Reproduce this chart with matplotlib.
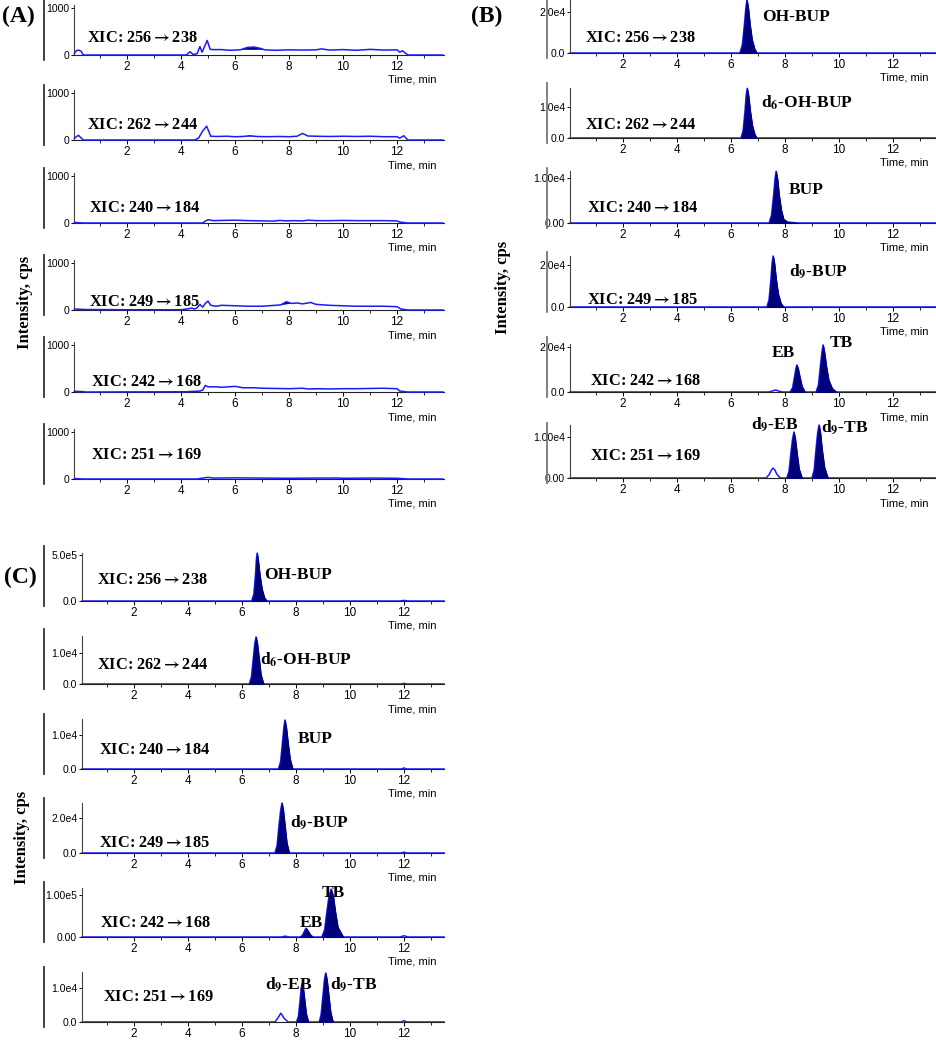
"""
LC-MS/MS extracted ion chromatograms: blank (A), spiked (B) and sample (C).
"""
import numpy as np
import matplotlib
matplotlib.use("Agg")
import matplotlib.pyplot as plt
from matplotlib.lines import Line2D

W, H = 936, 1050
BLUE = "#1a1aff"
NAVY = "#00007a"
SERIF = ["Liberation Serif", "DejaVu Serif"]
SANS = ["Liberation Sans", "DejaVu Sans"]
plt.rcParams["mathtext.fontset"] = "stix"

ARROW = r"$\mathbf{\rightarrow}$"
TRANSITIONS = ["256" + ARROW + "238", "262" + ARROW + "244", "240" + ARROW + "184",
               "249" + ARROW + "185", "242" + ARROW + "168", "251" + ARROW + "169"]

# ---- panel A: blank traces (cps) ----
A1_T = [0.05, 0.12, 0.2, 0.3, 0.38, 4.2, 4.33, 4.45, 4.6, 4.7, 4.78, 4.85, 4.97, 5.08, 5.2, 5.5,
        5.8, 6.0, 6.2, 6.45, 6.7, 6.95, 7.1, 7.5, 8.0, 8.5, 9.0, 9.2, 9.5, 10.0, 10.5, 11.0,
        11.5, 12.0, 12.1, 12.2, 12.4, 13.7]
A1_V = [30, 90, 105, 80, 0, 0, 70, 10, 30, 180, 60, 150, 310, 120, 115, 115,
        100, 105, 110, 160, 170, 140, 110, 100, 110, 105, 110, 130, 105, 115, 100, 120,
        105, 110, 60, 90, 0, 0]
A2_T = [0.05, 0.2, 0.38, 4.5, 4.65, 4.8, 4.95, 5.1, 5.3, 5.7, 6.0, 6.3, 6.55, 6.8, 7.2, 7.6,
        8.0, 8.3, 8.5, 8.7, 9.0, 9.5, 10.0, 10.5, 11.0, 11.5, 12.0, 12.1, 12.25, 12.4, 13.7]
A2_V = [40, 100, 0, 0, 40, 190, 295, 80, 75, 80, 70, 75, 90, 75, 70, 75,
        70, 80, 140, 85, 80, 75, 80, 75, 80, 70, 70, 40, 90, 0, 0]
A3_T = [0.05, 0.4, 4.8, 4.9, 5.0, 5.2, 5.5, 6.0, 6.5, 7.0, 7.4, 7.65, 7.9, 8.2, 8.5, 8.7,
        9.0, 9.5, 10.0, 10.5, 11.0, 11.5, 12.0, 12.1, 12.4, 13.7]
A3_V = [10, 0, 0, 40, 70, 50, 55, 60, 50, 45, 40, 55, 45, 50, 45, 60,
        50, 50, 55, 50, 50, 50, 45, 20, 0, 0]
A4_T = [0.05, 0.5, 2.0, 4.0, 4.2, 4.4, 4.5, 4.6, 4.7, 4.8, 4.9, 5.0, 5.1, 5.3, 5.5, 6.0,
        6.5, 7.0, 7.5, 7.7, 7.9, 8.1, 8.3, 8.5, 8.8, 9.0, 9.5, 10.0, 10.5, 11.0, 11.5, 12.0,
        12.15, 12.4, 13.7]
A4_V = [20, 10, 5, 5, 20, 40, 20, 50, 120, 60, 140, 190, 100, 80, 100, 90,
        80, 80, 100, 110, 175, 140, 150, 130, 160, 120, 100, 90, 80, 80, 80, 70,
        20, 0, 0]
A5_T = [0.05, 0.35, 0.45, 4.2, 4.7, 4.8, 4.9, 5.0, 5.3, 5.5, 6.0, 6.3, 6.7, 7.0, 7.5, 8.0,
        8.5, 8.7, 9.1, 9.5, 10.0, 10.5, 11.0, 11.5, 12.0, 12.1, 12.4, 13.7]
A5_V = [15, 10, 0, 5, 20, 40, 140, 110, 110, 100, 120, 90, 90, 80, 75, 70,
        80, 65, 70, 65, 70, 70, 75, 80, 70, 20, 0, 0]
A6_T = [0.05, 0.35, 4.6, 4.8, 5.0, 5.2, 6.0, 7.0, 8.0, 9.0, 9.5, 9.75, 10.0, 11.0, 12.0,
        12.3, 12.4, 13.7]
A6_V = [10, 0, 0, 20, 35, 20, 25, 20, 15, 20, 20, 22, 15, 20, 15, 5, 0, 0]

# integrated (dark) areas in the blanks
A1_FILL_T = [6.2, 6.45, 6.7, 6.95, 7.1]
A1_FILL_V = [110, 160, 170, 140, 110]
A2_FILL_T = [6.3, 6.55, 6.8]
A2_FILL_V = [75, 90, 75]
A3_FILL_T = [7.4, 7.65, 7.9]
A3_FILL_V = [40, 55, 45]
A4_FILL_T = [7.7, 7.9, 8.1]
A4_FILL_V = [100, 175, 140]
A5_FILL_T = [8.7, 9.1, 9.5]
A5_FILL_V = [60, 70, 62]
A6_FILL_T = [9.5, 9.75, 10.0]
A6_FILL_V = [15, 22, 15]

# ---- panel B: spiked standard ----
B1_OHBUP_T = [6.33, 6.42, 6.5, 6.55, 6.59, 6.64, 6.7, 6.78, 6.88, 6.96]
B1_OHBUP_V = [0, 3900, 14300, 22100, 26000, 22100, 14300, 6500, 1800, 0]
B2_D6OHBUP_T = [6.37, 6.45, 6.52, 6.56, 6.6, 6.65, 6.71, 6.79, 6.88, 6.96]
B2_D6OHBUP_V = [0, 2400, 8800, 13600, 16000, 13600, 8800, 4000, 1100, 0]
B3_BUP_T = [7.41, 7.5, 7.58, 7.63, 7.67, 7.72, 7.78, 7.86, 7.95, 8.1, 8.5]
B3_BUP_V = [0, 1700, 6300, 9800, 11500, 9800, 6300, 2900, 800, 200, 0]
B4_D9BUP_T = [7.33, 7.41, 7.48, 7.52, 7.56, 7.61, 7.67, 7.75, 7.85, 7.95]
B4_D9BUP_V = [0, 3600, 13400, 20700, 24300, 20700, 13400, 6100, 1700, 0]
B5_BUMP_T = [7.4, 7.55, 7.65, 7.75, 7.9]
B5_BUMP_V = [0, 500, 900, 500, 0]
B5_EB_T = [8.19, 8.28, 8.35, 8.4, 8.44, 8.49, 8.55, 8.63, 8.74]
B5_EB_V = [0, 1800, 6600, 10200, 12000, 10200, 6600, 2400, 0]
B5_TB_T = [9.15, 9.24, 9.31, 9.37, 9.41, 9.46, 9.53, 9.62, 9.75, 9.9]
B5_TB_V = [0, 3100, 11500, 17800, 20900, 17800, 11500, 5200, 1500, 0]
B6_BUMP_T = [7.3, 7.42, 7.5, 7.56, 7.62, 7.7, 7.82]
B6_BUMP_V = [0, 900, 2000, 2400, 2000, 900, 0]
B6_D9EB_T = [8.07, 8.15, 8.22, 8.28, 8.33, 8.38, 8.44, 8.52, 8.63]
B6_D9EB_V = [0, 1700, 6200, 9500, 11200, 9500, 6200, 2200, 0]
B6_D9TB_T = [9.0, 9.08, 9.15, 9.21, 9.26, 9.31, 9.37, 9.46, 9.59]
B6_D9TB_V = [0, 1900, 7100, 11000, 12900, 11000, 7100, 2600, 0]

# ---- panel C: sample ----
C1_OHBUP_T = [6.36, 6.44, 6.5, 6.53, 6.56, 6.6, 6.66, 6.74, 6.83, 6.92]
C1_OHBUP_V = [0, 7.8e4, 2.86e5, 4.42e5, 5.2e5, 4.42e5, 2.86e5, 1.3e5, 3.6e4, 0]
C1_BUMP_T = [11.85, 12.0, 12.15]
C1_BUMP_V = [0, 6000, 0]
C2_D6OHBUP_T = [6.27, 6.35, 6.42, 6.47, 6.52, 6.57, 6.63, 6.7, 6.8]
C2_D6OHBUP_V = [0, 2300, 8400, 12900, 15200, 12900, 8400, 3000, 0]
C2_BUMP_T = [11.9, 12.0, 12.1]
C2_BUMP_V = [0, 200, 0]
C3_BUP_T = [7.35, 7.43, 7.5, 7.55, 7.59, 7.64, 7.7, 7.78, 7.88]
C3_BUP_V = [0, 2200, 7900, 12200, 14400, 12200, 7900, 2900, 0]
C3_BUMP_T = [11.9, 12.0, 12.1]
C3_BUMP_V = [0, 300, 0]
C4_D9BUP_T = [7.22, 7.3, 7.37, 7.43, 7.48, 7.53, 7.59, 7.66, 7.75]
C4_D9BUP_V = [0, 4300, 15700, 24300, 28600, 24300, 15700, 5700, 0]
C4_BUMP_T = [11.9, 12.0, 12.1]
C4_BUMP_V = [0, 500, 0]
C5_BUMP1_T = [7.45, 7.6, 7.75]
C5_BUMP1_V = [0, 2000, 0]
C5_BUMP2_T = [11.85, 12.0, 12.15]
C5_BUMP2_V = [0, 3000, 0]
C5_EB_T = [8.15, 8.23, 8.3, 8.34, 8.37, 8.41, 8.47, 8.54, 8.63]
C5_EB_V = [0, 3200, 11600, 17900, 21000, 17900, 11600, 4200, 0]
C5_TB_T = [8.96, 9.06, 9.15, 9.22, 9.3, 9.38, 9.45, 9.55, 9.75]
C5_TB_V = [0, 17000, 63000, 97000, 114000, 97000, 63000, 23000, 0]
C6_BUMP1_T = [7.22, 7.33, 7.44, 7.55, 7.7]
C6_BUMP1_V = [0, 1200, 2600, 1200, 0]
C6_BUMP2_T = [11.9, 12.0, 12.1]
C6_BUMP2_V = [0, 400, 0]
C6_D9EB_T = [8.02, 8.09, 8.15, 8.19, 8.23, 8.27, 8.32, 8.38, 8.46]
C6_D9EB_V = [0, 1700, 6300, 9800, 11500, 9800, 6300, 2300, 0]
C6_D9TB_T = [8.86, 8.93, 9.0, 9.05, 9.1, 9.15, 9.21, 9.28, 9.37]
C6_D9TB_V = [0, 2200, 7900, 12200, 14400, 12200, 7900, 2900, 0]

# y tick labels (top, zero) per trace
A_YTICKS = [(1000, "1000", "0")] * 6
B_YTICKS = [(2e4, "2.0e4", "0.0"), (1e4, "1.0e4", "0.0"), (1e4, "1.00e4", "0.00"),
            (2e4, "2.0e4", "0.0"), (2e4, "2.0e4", "0.0"), (1e4, "1.00e4", "0.00")]
C_YTICKS = [(5e5, "5.0e5", "0.0"), (1e4, "1.0e4", "0.0"), (1e4, "1.0e4", "0.0"),
            (2e4, "2.0e4", "0.0"), (1e5, "1.00e5", "0.00"), (1e4, "1.0e4", "0.0")]

B_NAMES = [["OH-BUP"], [r"d$_\mathbf{6}$-OH-BUP"], ["BUP"], [r"d$_\mathbf{9}$-BUP"],
           ["EB", "TB"], [r"d$_\mathbf{9}$-EB", r"d$_\mathbf{9}$-TB"]]
C_NAMES = [["OH-BUP"], [r"d$_\mathbf{6}$-OH-BUP"], ["BUP"], [r"d$_\mathbf{9}$-BUP"],
           ["TB", "EB"], [r"d$_\mathbf{9}$-EB", r"d$_\mathbf{9}$-TB"]]

# ---- layout (pixels in the 936x1050 canvas) ----
A_BASE = [55, 140, 223, 310, 392, 479]
A_HGT = [50] * 6
A_YMAX = [1064] * 6
A_XIC = [(87, 38), (87, 125), (89, 208), (89, 302), (91, 382), (91, 455)]

B_BASE = [53, 138, 223, 307, 392, 478]
B_HGT = [53, 50, 52, 51, 48, 53]
B_YMAX = [2.6e4, 1.61e4, 1.155e4, 2.43e4, 2.13e4, 1.29e4]
B_XIC = [(585, 38), (585, 125), (587, 208), (587, 300), (590, 381), (590, 456)]
B_LBL = [[(762, 17)], [(761, 103)], [(789, 190)], [(789, 272)],
         [(772, 353), (830, 343)], [(751, 425), (821, 428)]]

C_BASE = [601, 684, 769, 853, 937, 1022]
C_HGT = [48, 48, 50, 50, 49, 50]
C_YMAX = [5.22e5, 1.55e4, 1.47e4, 2.86e4, 1.167e5, 1.47e4]
C_XIC = [(97, 580), (97, 665), (99, 750), (99, 843), (100, 923), (103, 997)]
C_LBL = [[(264, 575)], [(260, 660)], [(298, 739)], [(290, 823)],
         [(322, 893), (300, 923)], [(265, 985), (330, 985)]]


def fx(x):
    return x / W


def fy(y):
    return 1 - y / H


fig = plt.figure(figsize=(W / 100, H / 100), dpi=100)


def make_axes(left, right, x0px, base, hgt, ymax, ytick, frame_x, frame_col, time_lbl=True):
    """One chromatogram box; x0px is the pixel where t = 0 falls (27 px per min)."""
    xlim = ((left - x0px) / 27.0, (right - x0px) / 27.0)
    ax = fig.add_axes([fx(left), fy(base), (right - left) / W, hgt / H])
    ax.set_xlim(*xlim)
    ax.set_ylim(0, ymax)
    ax.patch.set_alpha(0)
    for s in ("top", "right"):
        ax.spines[s].set_visible(False)
    ax.spines["left"].set_color("#444444")
    ax.spines["bottom"].set_color("#222222")
    ax.spines["left"].set_linewidth(0.8)
    ax.spines["bottom"].set_linewidth(0.8)
    ax.set_xticks([2, 4, 6, 8, 10, 12])
    ax.set_xticks([1, 3, 5, 7, 9, 11, 13], minor=True)
    ax.tick_params(axis="x", which="major", length=3, width=0.7, pad=1, labelsize=8.5)
    ax.tick_params(axis="x", which="minor", length=2, width=0.6)
    top, top_lbl, zero_lbl = ytick
    ax.set_yticks([0, top])
    ax.set_yticklabels([zero_lbl, top_lbl])
    ax.tick_params(axis="y", length=2.5, width=0.7, pad=1, labelsize=7.5)
    for lbl in ax.get_xticklabels() + ax.get_yticklabels():
        lbl.set_family(SANS)
    # outer bracket line to the left of each box
    fig.add_artist(Line2D([fx(frame_x)] * 2, [fy(base - 55), fy(base + 5)],
                          color=frame_col, lw=1.3))
    if time_lbl:
        fig.text(fx(right - 8), fy(base + 25), "Time, min", ha="right", va="center",
                 fontsize=8, family=SANS)
    return ax


def draw_trace(ax, xlim, filled, opened):
    ts = [xlim[0], xlim[1]]
    vs = [0, 0]
    for t, v in filled + opened:
        ts += list(t)
        vs += list(v)
    order = np.argsort(ts, kind="stable")
    ax.plot(np.array(ts)[order], np.array(vs)[order], color=BLUE, lw=1.1, clip_on=False, zorder=2)
    for t, v in filled:
        ax.fill_between(t, 0, v, color=NAVY, lw=0.6, edgecolor=NAVY, zorder=3)


def xic_text(xy, mz):
    fig.text(fx(xy[0]), fy(xy[1]), "XIC: " + mz, ha="left", va="center",
             fontsize=11.8, fontweight="bold", family=SERIF)


# ---------- panel A ----------
A_TRACES = [(A1_T, A1_V), (A2_T, A2_V), (A3_T, A3_V), (A4_T, A4_V), (A5_T, A5_V), (A6_T, A6_V)]
A_FILLS = [(A1_FILL_T, A1_FILL_V), (A2_FILL_T, A2_FILL_V), (A3_FILL_T, A3_FILL_V),
           (A4_FILL_T, A4_FILL_V), (A5_FILL_T, A5_FILL_V), (A6_FILL_T, A6_FILL_V)]
for i in range(6):
    ax = make_axes(74, 444, 73, A_BASE[i], A_HGT[i], A_YMAX[i], A_YTICKS[i], 44, "#333333")
    t, v = A_TRACES[i]
    ax.plot(t, v, color=BLUE, lw=1.1, clip_on=False, zorder=3)
    ft, fv = A_FILLS[i]
    ax.fill(ft, fv, color=NAVY, lw=0, zorder=2)
    xic_text(A_XIC[i], TRANSITIONS[i])

# ---------- panel B ----------
B_FILLED = [[(B1_OHBUP_T, B1_OHBUP_V)], [(B2_D6OHBUP_T, B2_D6OHBUP_V)], [(B3_BUP_T, B3_BUP_V)],
            [(B4_D9BUP_T, B4_D9BUP_V)], [(B5_EB_T, B5_EB_V), (B5_TB_T, B5_TB_V)],
            [(B6_D9EB_T, B6_D9EB_V), (B6_D9TB_T, B6_D9TB_V)]]
B_OPEN = [[], [], [], [], [(B5_BUMP_T, B5_BUMP_V)], [(B6_BUMP_T, B6_BUMP_V)]]
for i in range(6):
    ax = make_axes(570, 936, 569, B_BASE[i], B_HGT[i], B_YMAX[i], B_YTICKS[i], 547, "#777777")
    draw_trace(ax, ax.get_xlim(), B_FILLED[i], B_OPEN[i])
    xic_text(B_XIC[i], TRANSITIONS[i])
    for name, (px, py) in zip(B_NAMES[i], B_LBL[i]):
        fig.text(fx(px), fy(py), name, ha="left", va="center", fontsize=12.5,
                 fontweight="bold", family=SERIF)

# ---------- panel C ----------
C_FILLED = [[(C1_OHBUP_T, C1_OHBUP_V)], [(C2_D6OHBUP_T, C2_D6OHBUP_V)], [(C3_BUP_T, C3_BUP_V)],
            [(C4_D9BUP_T, C4_D9BUP_V)], [(C5_EB_T, C5_EB_V), (C5_TB_T, C5_TB_V)],
            [(C6_D9EB_T, C6_D9EB_V), (C6_D9TB_T, C6_D9TB_V)]]
C_OPEN = [[(C1_BUMP_T, C1_BUMP_V)], [(C2_BUMP_T, C2_BUMP_V)], [(C3_BUMP_T, C3_BUMP_V)],
          [(C4_BUMP_T, C4_BUMP_V)], [(C5_BUMP1_T, C5_BUMP1_V), (C5_BUMP2_T, C5_BUMP2_V)],
          [(C6_BUMP1_T, C6_BUMP1_V), (C6_BUMP2_T, C6_BUMP2_V)]]
for i in range(6):
    ax = make_axes(82, 444, 80, C_BASE[i], C_HGT[i], C_YMAX[i], C_YTICKS[i], 44, "#333333",
                   time_lbl=(i < 5))
    draw_trace(ax, ax.get_xlim(), C_FILLED[i], C_OPEN[i])
    xic_text(C_XIC[i], TRANSITIONS[i])
    for name, (px, py) in zip(C_NAMES[i], C_LBL[i]):
        fig.text(fx(px), fy(py), name, ha="left", va="center", fontsize=12.5,
                 fontweight="bold", family=SERIF)

# panel letters and shared y labels
for letter, (px, py) in zip(["(A)", "(B)", "(C)"], [(2, 16), (471, 16), (4, 577)]):
    fig.text(fx(px), fy(py), letter, ha="left", va="center", fontsize=17,
             fontweight="bold", family=SERIF)
for px, py in [(25, 302), (503, 287), (22, 837)]:
    fig.text(fx(px), fy(py), "Intensity, cps", ha="center", va="center", rotation=90,
             fontsize=12, fontweight="bold", family=SERIF)

fig.savefig("out.png", dpi=100)
plt.close(fig)
